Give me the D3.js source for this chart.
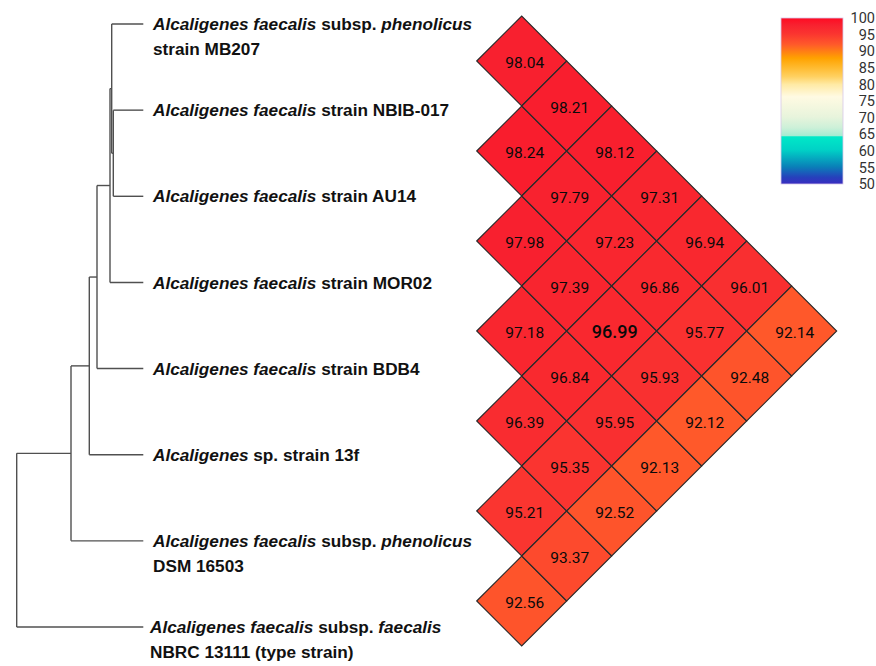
<!DOCTYPE html>
<html><head><meta charset="utf-8">
<script src="https://cdn.jsdelivr.net/npm/d3@7"></script>
<style>
html,body{margin:0;padding:0;background:#fff;}
svg{display:block;}
</style></head>
<body>
<script>
// ---- DATA ----
const taxa = ["MB207","NBIB-017","AU14","MOR02","BDB4","13f","DSM 16503","NBRC 13111"];
const labelLines = [
  [[["Alcaligenes faecalis",1],[" subsp. ",0],["phenolicus",1]],[["strain MB207",0]]],
  [[["Alcaligenes faecalis",1],[" strain NBIB-017",0]]],
  [[["Alcaligenes faecalis",1],[" strain AU14",0]]],
  [[["Alcaligenes faecalis",1],[" strain MOR02",0]]],
  [[["Alcaligenes faecalis",1],[" strain BDB4",0]]],
  [[["Alcaligenes",1],[" sp. strain 13f",0]]],
  [[["Alcaligenes faecalis",1],[" subsp. ",0],["phenolicus",1]],[["DSM 16503",0]]],
  [[["Alcaligenes faecalis",1],[" subsp. ",0],["faecalis",1]],[["NBRC 13111 (type strain)",0]]]
];
// dendrogram: node heights (distance from tips)
const tree = {height: 12.66, children: [
  {height: 7.23, children: [
    {height: 5.40, children: [
      {height: 4.63, children: [
        {height: 3.33, children: [
          {height: 3.16, children: [
            {leaf: "MB207"},
            {height: 3.00, children: [{leaf: "NBIB-017"}, {leaf: "AU14"}]}
          ]},
          {leaf: "MOR02"}
        ]},
        {leaf: "BDB4"}
      ]},
      {leaf: "13f"}
    ]},
    {leaf: "DSM 16503"}
  ]},
  {leaf: "NBRC 13111"}
]};
// pairwise ANI values, pairs [i, j, value] with i<j (taxa order)
const aniPairs = [
  [0,1,98.04],[1,2,98.24],[2,3,97.98],[3,4,97.18],[4,5,96.39],[5,6,95.21],[6,7,92.56],
  [0,2,98.21],[1,3,97.79],[2,4,97.39],[3,5,96.84],[4,6,95.35],[5,7,93.37],
  [0,3,98.12],[1,4,97.23],[2,5,96.99],[3,6,95.95],[4,7,92.52],
  [0,4,97.31],[1,5,96.86],[2,6,95.93],[3,7,92.13],
  [0,5,96.94],[1,6,95.77],[2,7,92.12],
  [0,6,96.01],[1,7,92.48],
  [0,7,92.14]
];
const highlightPair = [2,5];
// colour scale stops
const colorStops = [
  [50,"#3a2cc0"],[52,"#2640bc"],[55.2,"#0a80b8"],[60.3,"#00d2c6"],[64.2,"#00e8c8"],
  [64.6,"#a6ecd2"],[67,"#cdf0d8"],[70.3,"#e8f4dc"],[76.3,"#fffae2"],[80,"#ffeaa4"],
  [82.4,"#ffd060"],[85,"#ffbb30"],[87.9,"#ffa200"],[92,"#ff5a2a"],[95.2,"#fa3530"],
  [98,"#f8202f"],[100,"#ff0a22"]
];
const legendTicks = [100,95,90,85,80,75,70,65,60,55,50];

// ---- DRAW ----
const W = 876, H = 666;
const svg = d3.select("body").append("svg").attr("width", W).attr("height", H);

const color = d3.scaleLinear()
  .domain(colorStops.map(d => d[0]))
  .range(colorStops.map(d => d[1]))
  .interpolate(d3.interpolateRgb);

// dendrogram
const root = d3.hierarchy(tree);
const xTree = d3.scaleLinear().domain([tree.height, 0]).range([16.7, 143.3]);
const yLeaf = d3.scalePoint().domain(taxa).range([24, 627]);

root.eachAfter(n => {
  if (!n.children) { n.px = xTree(0); n.py = yLeaf(n.data.leaf); }
  else {
    n.px = xTree(n.data.height);
    n.py = (n.children[0].py + n.children[n.children.length-1].py) / 2;
  }
});

const gTree = svg.append("g").attr("fill","none").attr("stroke","#505050").attr("stroke-width",1.4);
root.each(n => {
  if (n.children) {
    const ys = n.children.map(c => c.py);
    gTree.append("line").attr("x1", n.px).attr("x2", n.px)
      .attr("y1", d3.min(ys)).attr("y2", d3.max(ys));
    n.children.forEach(c => {
      gTree.append("line").attr("x1", n.px).attr("x2", c.px)
        .attr("y1", c.py).attr("y2", c.py);
    });
  }
});

// labels
const gLab = svg.append("g").attr("font-family","'Liberation Sans', Arial, sans-serif")
  .attr("font-size", 17.2).attr("font-weight","bold").attr("fill","#111");
taxa.forEach((t, i) => {
  const y = yLeaf(t);
  labelLines[i].forEach((parts, li) => {
    const txt = gLab.append("text").attr("x", i === 7 ? 150 : 153)
      .attr("y", y + li * 25).attr("dy", "0.36em").attr("xml:space","preserve");
    parts.forEach(p => {
      txt.append("tspan").attr("font-style", p[1] ? "italic" : "normal").text(p[0]);
    });
  });
});

// heatmap
const xDiag = d3.scaleLinear().domain([1, 7]).range([521.7, 791.7]);
const yMid = d3.scaleLinear().domain([0, 7]).range([16, 646]);
const half = (xDiag(2) - xDiag(1));

const gHeat = svg.append("g");
gHeat.selectAll("path").data(aniPairs).join("path")
  .attr("d", d => {
    const cx = xDiag(d[1]-d[0]), cy = yMid((d[0]+d[1])/2);
    return `M${cx-half},${cy}L${cx},${cy-half}L${cx+half},${cy}L${cx},${cy+half}Z`;
  })
  .attr("fill", d => color(d[2]))
  .attr("stroke", "#2a2a2a").attr("stroke-width", 1.1);

const isHi = d => d[0]===highlightPair[0] && d[1]===highlightPair[1];
gHeat.selectAll("text").data(aniPairs).join("text")
  .attr("x", d => xDiag(d[1]-d[0]) + 3)
  .attr("y", d => yMid((d[0]+d[1])/2) + 1)
  .attr("dy", "0.36em")
  .attr("text-anchor", "middle")
  .attr("font-family", "Roboto, sans-serif")
  .attr("font-weight", d => isHi(d) ? 500 : 400)
  .attr("font-size", d => isHi(d) ? 18 : 15.5)
  .attr("fill", "#0a0a0a")
  .text(d => d[2].toFixed(2));

// legend
const yLeg = d3.scaleLinear().domain([50, 100]).range([184, 18]);
const defs = svg.append("defs");
const grad = defs.append("linearGradient").attr("id","leg")
  .attr("x1",0).attr("x2",0).attr("y1",1).attr("y2",0);
colorStops.forEach(s => {
  grad.append("stop").attr("offset", (s[0]-50)/50).attr("stop-color", s[1]);
});
svg.append("rect").attr("x", 781).attr("y", yLeg(100)).attr("width", 62)
  .attr("height", yLeg(50) - yLeg(100)).attr("fill","url(#leg)")
  .attr("stroke","#d8c8e8").attr("stroke-width",0.8);
svg.append("g").selectAll("text").data(legendTicks).join("text")
  .attr("x", 875).attr("y", d => yLeg(d)).attr("dy","0.36em")
  .attr("text-anchor","end").attr("font-family","Roboto, sans-serif")
  .attr("font-size", 14.5).attr("fill","#333").text(d => d);
</script>
</body></html>
